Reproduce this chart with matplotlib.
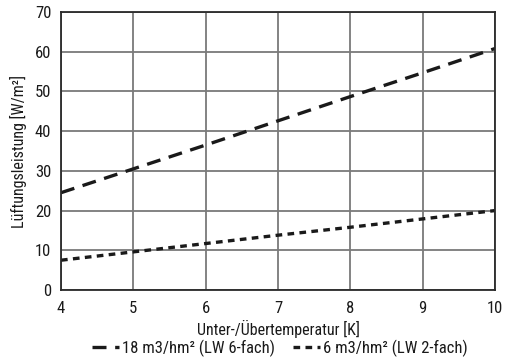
import matplotlib
matplotlib.use("Agg")
import matplotlib.pyplot as plt

plt.rcParams['font.family'] = ['Roboto Condensed', 'DejaVu Sans']

x = [4, 5, 6, 7, 8, 9, 10]
s18 = [24.5, 30.5, 36.5, 42.6, 48.7, 54.7, 60.8]
s6 = [7.5, 9.6, 11.7, 13.8, 15.8, 17.9, 20.0]
xticks = [4, 5, 6, 7, 8, 9, 10]
yticks = [0, 10, 20, 30, 40, 50, 60, 70]

fig = plt.figure(figsize=(5.05, 3.61), dpi=100)
ax = fig.add_axes([61/505, 1-290/361, 434/505, 278/361])
ax.plot(x, s18, color='#1a1a1a', lw=2.4, dashes=(4.2, 2.6), label='18 m3/hm² (LW 6-fach)')
ax.plot(x, s6, color='#1a1a1a', lw=2.4, dashes=(2.0, 1.6), label='6 m3/hm² (LW 2-fach)')
ax.set_xlim(4, 10)
ax.set_ylim(0, 70)
ax.set_xticks(xticks)
ax.set_yticks(yticks)
ax.tick_params(length=0, labelsize=12, colors='#1a1a1a')
ax.tick_params(axis='x', pad=8)
ax.tick_params(axis='y', pad=7)
ax.grid(True, color='#7a7a7a', lw=1.3)
ax.set_axisbelow(True)
for sp in ax.spines.values():
    sp.set_color('#2a2a2a')
    sp.set_linewidth(1.3)
ax.set_xlabel('Unter-/Übertemperatur [K]', fontsize=11.5, labelpad=3, color='#1a1a1a')
ax.set_ylabel('Lüftungsleistung [W/m²]', fontsize=11.5, labelpad=6, color='#1a1a1a')
leg = ax.legend(loc='center', bbox_to_anchor=(280/505, 1-348/361), bbox_transform=fig.transFigure,
                ncol=2, frameon=False, fontsize=12, handlelength=1.6, columnspacing=1.1,
                handletextpad=0.2, borderpad=0)
for t in leg.get_texts():
    t.set_color('#1a1a1a')
fig.savefig('out.png', dpi=100)
